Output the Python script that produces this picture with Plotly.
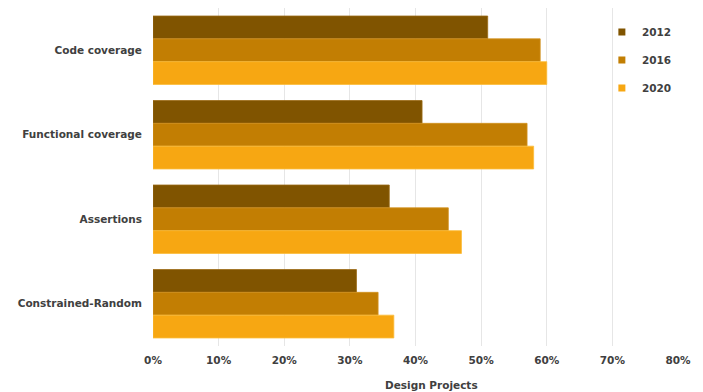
import plotly.graph_objects as go

# Verification techniques adopted, share of design projects
categories = ["Code coverage", "Functional coverage", "Assertions", "Constrained-Random"]
years = ["2012", "2016", "2020"]
values_2012 = [0.51, 0.41, 0.36, 0.31]
values_2016 = [0.59, 0.57, 0.45, 0.343]
values_2020 = [0.60, 0.58, 0.47, 0.367]
colors = ["#805400", "#C27E03", "#F7A712"]
edge_colors = ["#9A6A14", "#D29220", "#FBBC3A"]

x_ticks = [0, 0.1, 0.2, 0.3, 0.4, 0.5, 0.6, 0.7, 0.8]
x_tick_text = ["0%", "10%", "20%", "30%", "40%", "50%", "60%", "70%", "80%"]

FONT = "DejaVu Sans"
TEXT = "#404040"

fig = go.Figure()
for year, vals, col, edge in zip(years, [values_2012, values_2016, values_2020], colors, edge_colors):
    fig.add_trace(go.Bar(
        y=categories, x=vals, orientation="h", name=year,
        marker=dict(color=col, line=dict(color=edge, width=0.8)),
        showlegend=False, hoverinfo="x+y",
    ))
    # small square legend keys
    fig.add_trace(go.Scatter(
        x=[None], y=[None], mode="markers", name=year,
        marker=dict(symbol="square", size=7, color=col),
        legendgroup=year, showlegend=True,
    ))

fig.update_layout(
    width=703, height=392,
    margin=dict(l=153, r=25, t=8, b=46),
    paper_bgcolor="white", plot_bgcolor="white",
    barmode="group", bargap=0.19, bargroupgap=0,
    font=dict(family=FONT, size=10.5, color=TEXT),
    showlegend=True,
    legend=dict(
        x=0.855, xanchor="left", y=0.972, yanchor="top",
        traceorder="grouped", tracegroupgap=9,
        bgcolor="rgba(0,0,0,0)",
        font=dict(family=FONT, size=10.5, color=TEXT, weight="bold"),
    ),
    xaxis=dict(
        range=[0, 0.8], tickvals=x_ticks, ticktext=x_tick_text,
        showgrid=True, gridcolor="#E6E6E6", gridwidth=1,
        zeroline=False, showline=False, ticks="", ticklabelstandoff=6,
        tickfont=dict(family=FONT, size=10.5, color=TEXT, weight="bold"),
        fixedrange=True,
    ),
    yaxis=dict(
        autorange="reversed", showgrid=False, zeroline=False, showline=False,
        ticks="", ticklabelstandoff=10,
        tickfont=dict(family=FONT, size=10.5, color=TEXT, weight="bold"),
    ),
    annotations=[dict(
        text="Design Projects", xref="paper", yref="paper",
        x=0.531, y=-0.115, xanchor="center", yanchor="middle", showarrow=False,
        font=dict(family=FONT, size=10.5, color=TEXT, weight="bold"),
    )],
)

fig.write_html("out.html")
